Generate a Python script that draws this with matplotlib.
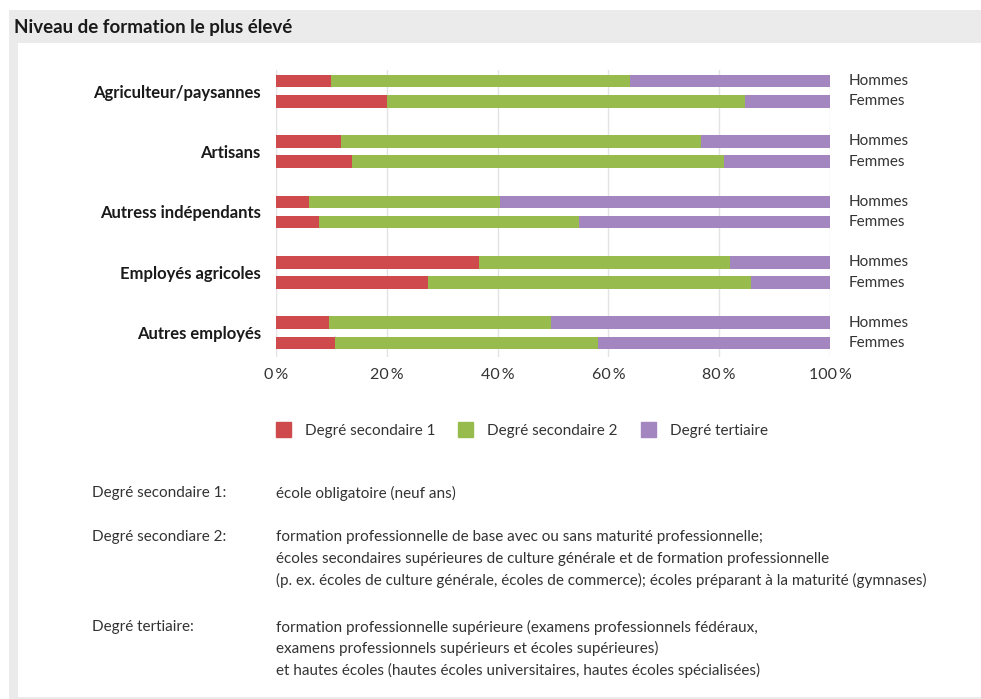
import matplotlib.pyplot as plt
import matplotlib.patches as mpatches
import numpy as np

plt.rcParams['font.family'] = ['Lato', 'DejaVu Sans']

# data (share in %)
categories = ['Agriculteur/paysannes', 'Artisans', 'Autress indépendants',
              'Employés agricoles', 'Autres employés']
sexes = ['Hommes', 'Femmes']
sec1_h = [10.0, 11.8, 5.9, 36.6, 9.5]
sec2_h = [53.9, 65.0, 34.5, 45.3, 40.2]
sec1_f = [20.1, 13.7, 7.7, 27.4, 10.6]
sec2_f = [64.6, 67.2, 47.0, 58.3, 47.5]
ticks = [0, 20, 40, 60, 80, 100]
legend_labels = ['Degré secondaire 1', 'Degré secondaire 2', 'Degré tertiaire']
notes = [
    ('Degré secondaire 1:', ['école obligatoire (neuf ans)']),
    ('Degré secondiare 2:', [
        'formation professionnelle de base avec ou sans maturité professionnelle;',
        'écoles secondaires supérieures de culture générale et de formation professionnelle',
        '(p. ex. écoles de culture générale, écoles de commerce); écoles préparant à la maturité (gymnases)']),
    ('Degré tertiaire:', [
        'formation professionnelle supérieure (examens professionnels fédéraux,',
        'examens professionnels supérieurs et écoles supérieures)',
        'et hautes écoles (hautes écoles universitaires, hautes écoles spécialisées)']),
]

colors = ['#cf4a4c', '#98bb4e', '#a386bf']
W, H = 981, 699

fig = plt.figure(figsize=(W / 100, H / 100), dpi=100)
fig.patch.set_facecolor('white')

# frame: gray header and left strip
fig.patches.append(mpatches.Rectangle((9 / W, 0), 1, 1 - 10 / H, transform=fig.transFigure,
                                      facecolor='#ebebeb', edgecolor='none', zorder=-3))
fig.patches.append(mpatches.Rectangle((18 / W, 2 / H), 1, 1 - 43 / H - 2 / H, transform=fig.transFigure,
                                      facecolor='white', edgecolor='none', zorder=-2))
fig.text(14 / W, 1 - 27 / H, 'Niveau de formation le plus élevé', fontsize=13.5,
         fontweight='bold', color='#1a1a1a', va='center', ha='left')

ax = fig.add_axes([276 / W, 1 - 357 / H, (830 - 276) / W, (357 - 70) / H])
ax.set_facecolor('none')

y = np.arange(len(categories))
off = 0.167
bh = 0.21
s1h, s2h = np.array(sec1_h), np.array(sec2_h)
s1f, s2f = np.array(sec1_f), np.array(sec2_f)
terh = 100 - s1h - s2h
terf = 100 - s1f - s2f

for yy, a, b, c in [(y - off, s1h, s2h, terh), (y + off, s1f, s2f, terf)]:
    ax.barh(yy, a, height=bh, color=colors[0], zorder=3)
    ax.barh(yy, b, left=a, height=bh, color=colors[1], zorder=3)
    ax.barh(yy, c, left=a + b, height=bh, color=colors[2], zorder=3)

ax.set_xlim(0, 100)
ax.set_ylim(4.40, -0.35)
ax.set_xticks(ticks)
ax.set_xticklabels([f'{t}\u2009%' for t in ticks], fontsize=11.5, color='#333333')
ax.tick_params(axis='x', length=0, pad=8)
ax.grid(axis='x', color='#e3e3e3', linewidth=1, zorder=0)
for s in ax.spines.values():
    s.set_visible(False)

ax.set_yticks(y)
ax.set_yticklabels(categories, fontsize=12, fontweight='bold', color='#1a1a1a')
ax.tick_params(axis='y', length=0, pad=11)

for yy in y:
    for k, sx in enumerate(sexes):
        ax.text(103.4, yy + (off if k else -off), sx, fontsize=11, color='#333333',
                va='center', ha='left')

handles = [mpatches.Patch(color=c) for c in colors]
fig.legend(handles, legend_labels, loc='center left', bbox_to_anchor=(262 / W, 1 - 430 / H),
           ncol=3, frameon=False, fontsize=11, handlelength=1.0, handleheight=1.1,
           columnspacing=1.5, handletextpad=0.9, labelcolor='#333333')

ys = [493, 537, 627]
for (lab, lines), y0 in zip(notes, ys):
    fig.text(92 / W, 1 - y0 / H, lab, fontsize=11, color='#333333', va='center')
    for i, line in enumerate(lines):
        fig.text(276 / W, 1 - (y0 + 21.5 * i) / H, line, fontsize=11, color='#333333', va='center')

fig.savefig('out.png', dpi=100)
